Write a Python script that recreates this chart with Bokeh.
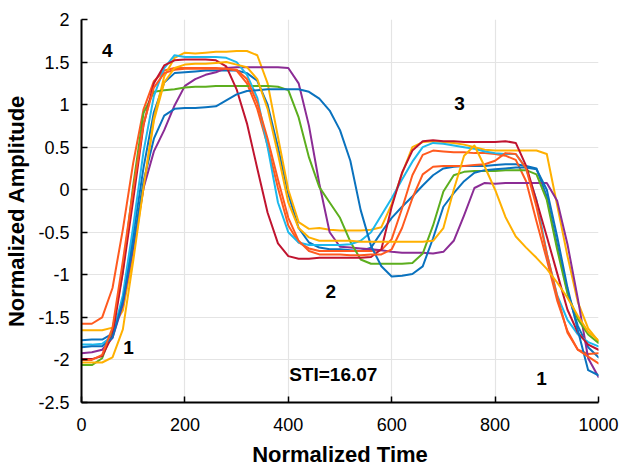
from bokeh.plotting import figure
from bokeh.models import FixedTicker, Range1d, ColumnDataSource
from bokeh.embed import file_html
from bokeh.resources import INLINE
from bokeh.core.properties import value

# ---------------- data ----------------
time = list(range(0, 1001, 20))

blue_1 = [-1.77, -1.76, -1.76, -1.69, -1.30, -0.53, 0.26, 0.91, 1.26, 1.37, 1.38, 1.39, 1.40, 1.40, 1.40, 1.40,
          1.37, 1.28, 1.00, 0.50, -0.05, -0.45, -0.62, -0.68, -0.70, -0.70, -0.71, -0.72, -0.68, -0.50, -0.33,
          -0.20, -0.08, 0.05, 0.17, 0.25, 0.27, 0.28, 0.28, 0.28, 0.29, 0.30, 0.30, 0.28, 0.25, -0.08, -0.65,
          -1.20, -1.60, -1.85, -1.97]
orange_1 = [-1.575, -1.575, -1.50, -1.155, -0.465, 0.315, 0.945, 1.275, 1.40, 1.43, 1.43, 1.43, 1.43, 1.43, 1.42,
            1.40, 1.25, 0.95, 0.52, 0.02, -0.42, -0.62, -0.69, -0.72, -0.72, -0.72, -0.72, -0.72, -0.72, -0.71,
            -0.58, -0.22, 0.17, 0.41, 0.46, 0.45, 0.44, 0.44, 0.43, 0.43, 0.42, 0.40, 0.35, 0.10, -0.37, -0.82,
            -1.30, -1.66, -1.88, -1.93, -1.92]
yellow_1 = [-1.65, -1.65, -1.65, -1.62, -1.42, -0.76, 0.02, 0.84, 1.33, 1.55, 1.61, 1.60, 1.61, 1.62, 1.62, 1.63,
            1.63, 1.58, 1.25, 0.62, 0.00, -0.38, -0.46, -0.45, -0.47, -0.48, -0.48, -0.48, -0.47, -0.44, -0.17,
            0.19, 0.50, 0.56, 0.57, 0.56, 0.55, 0.53, 0.50, 0.47, 0.46, 0.46, 0.46, 0.46, 0.46, 0.42, -0.18,
            -0.78, -1.32, -1.63, -1.78]
purple_1 = [-1.92, -1.91, -1.88, -1.74, -1.35, -0.68, 0.02, 0.45, 0.70, 0.99, 1.22, 1.30, 1.35, 1.38, 1.43, 1.44,
            1.44, 1.44, 1.44, 1.44, 1.43, 1.25, 0.75, 0.07, -0.50, -0.67, -0.68, -0.69, -0.70, -0.71, -0.73,
            -0.74, -0.74, -0.74, -0.75, -0.73, -0.60, -0.30, 0.02, 0.08, 0.07, 0.08, 0.08, 0.08, 0.08, 0.08,
            -0.13, -0.64, -1.28, -1.98, -2.20]
green_1 = [-2.06, -2.06, -1.98, -1.65, -0.95, 0.05, 0.90, 1.15, 1.17, 1.18, 1.20, 1.21, 1.21, 1.22, 1.22, 1.22,
           1.22, 1.22, 1.22, 1.21, 1.17, 0.85, 0.38, 0.03, -0.15, -0.33, -0.61, -0.82, -0.87, -0.87, -0.87,
           -0.87, -0.86, -0.75, -0.42, -0.02, 0.17, 0.21, 0.22, 0.22, 0.22, 0.23, 0.23, 0.23, 0.18, -0.12,
           -0.70, -1.22, -1.52, -1.70, -1.80]
cyan_1 = [-1.82, -1.82, -1.81, -1.72, -1.24, -0.43, 0.45, 1.10, 1.43, 1.58, 1.56, 1.56, 1.56, 1.56, 1.55, 1.50,
          1.35, 1.08, 0.50, -0.15, -0.50, -0.62, -0.65, -0.65, -0.65, -0.65, -0.64, -0.60, -0.50, -0.30, -0.10,
          0.12, 0.33, 0.50, 0.55, 0.54, 0.52, 0.50, 0.48, 0.45, 0.43, 0.42, 0.42, 0.25, -0.12, -0.75, -1.24,
          -1.53, -1.70, -1.79, -1.84]
red_1 = [-1.99, -1.99, -1.955, -1.71, -0.97, -0.12, 0.76, 1.25, 1.46, 1.52, 1.53, 1.53, 1.53, 1.52, 1.45, 1.18,
         0.78, 0.25, -0.27, -0.63, -0.78, -0.81, -0.81, -0.80, -0.80, -0.80, -0.80, -0.80, -0.79, -0.70, -0.20,
         0.20, 0.46, 0.57, 0.58, 0.57, 0.57, 0.56, 0.56, 0.56, 0.56, 0.57, 0.55, 0.28, -0.13, -0.55, -0.98,
         -1.41, -1.68, -1.82, -1.88]
blue_2 = [-1.85, -1.84, -1.84, -1.74, -1.31, -0.64, 0.10, 0.60, 0.87, 0.95, 0.96, 0.96, 0.97, 0.98, 1.05, 1.12,
          1.16, 1.17, 1.18, 1.18, 1.18, 1.18, 1.15, 1.07, 0.93, 0.70, 0.34, -0.24, -0.66, -0.90, -1.02, -1.01,
          -0.99, -0.90, -0.57, -0.20, -0.04, 0.10, 0.20, 0.23, 0.24, 0.25, 0.26, 0.26, 0.24, 0.00, -0.55,
          -1.15, -1.65, -2.12, -2.18]
orange_2 = [-2.00, -2.00, -1.94, -1.62, -0.84, 0.00, 0.77, 1.20, 1.37, 1.41, 1.42, 1.42, 1.42, 1.42, 1.42, 1.41,
            1.30, 1.02, 0.60, 0.12, -0.33, -0.60, -0.72, -0.76, -0.76, -0.76, -0.77, -0.77, -0.76, -0.76, -0.70,
            -0.45, -0.10, 0.18, 0.27, 0.28, 0.28, 0.28, 0.29, 0.30, 0.34, 0.43, 0.42, 0.25, -0.20, -0.75, -1.25,
            -1.68, -1.88, -1.96, -2.04]
yellow_2 = [-2.03, -2.03, -2.03, -1.97, -1.64, -0.84, 0.03, 0.81, 1.26, 1.43, 1.47, 1.48, 1.48, 1.49, 1.50, 1.47,
            1.44, 1.30, 0.95, 0.42, -0.15, -0.45, -0.56, -0.60, -0.60, -0.60, -0.60, -0.61, -0.61, -0.61, -0.61,
            -0.61, -0.61, -0.61, -0.60, -0.45, 0.00, 0.40, 0.52, 0.27, 0.00, -0.32, -0.55, -0.68, -0.80, -0.93,
            -1.09, -1.27, -1.48, -1.67, -1.77]

series = [blue_1, orange_1, yellow_1, purple_1, green_1, cyan_1, red_1, blue_2, orange_2, yellow_2]
colors = ["#0A72BE", "#FF5A1F", "#FFB000", "#8B2C95", "#5CAE1E", "#1DB8EC", "#C0142F",
          "#0A72BE", "#FF5A1F", "#FFB000"]

x_ticks = [0, 200, 400, 600, 800, 1000]
y_ticks = [-2.5, -2, -1.5, -1, -0.5, 0, 0.5, 1, 1.5, 2]
y_tick_labels = ["-2.5", "-2", "-1.5", "-1", "-0.5", "0", "0.5", "1", "1.5", "2"]

ann_x = [50, 731, 482, 91, 890, 487]
ann_y = [1.64, 1.01, -1.2, -1.85, -2.22, -2.17]
ann_text = ["4", "3", "2", "1", "1", "STI=16.07"]

FONT = "Liberation Sans"

# ---------------- figure ----------------
p = figure(width=621, height=469, x_range=Range1d(0, 1000), y_range=Range1d(-2.5, 2),
           output_backend="svg", toolbar_location=None,
           min_border_left=81, min_border_right=23, min_border_top=19, min_border_bottom=64)
p.outline_line_color = None
p.background_fill_color = "white"
p.border_fill_color = "white"

for ys, c in zip(series, colors):
    p.line(time, ys, line_color=c, line_width=2, line_join="round", line_cap="round")

src = ColumnDataSource(dict(x=ann_x, y=ann_y, t=ann_text))
p.text(x="x", y="y", text="t", source=src, text_font=value(FONT), text_font_style="bold",
       text_font_size="19px", text_align="center", text_baseline="middle", text_color="black")

for ax in (p.xaxis[0], p.yaxis[0]):
    ax.axis_line_color = "black"
    ax.axis_line_width = 2
    ax.major_tick_line_color = "black"
    ax.major_tick_line_width = 1.5
    ax.major_tick_in = 6
    ax.major_tick_out = 0
    ax.minor_tick_line_color = None
    ax.major_label_text_font = FONT
    ax.major_label_text_font_size = "18px"
    ax.major_label_text_color = "black"
    ax.axis_label_text_font = FONT
    ax.axis_label_text_font_size = "22px"
    ax.axis_label_text_font_style = "bold"
    ax.axis_label_text_color = "black"

p.xaxis.ticker = FixedTicker(ticks=x_ticks)
p.yaxis.ticker = FixedTicker(ticks=y_ticks)
p.yaxis.major_label_overrides = {t: s for t, s in zip(y_ticks, y_tick_labels)}
p.xaxis.axis_label = "Normalized Time"
p.yaxis.axis_label = "Normalized Amplitude"
p.xaxis.major_label_standoff = 15
p.yaxis.major_label_standoff = 12
p.xaxis.axis_label_standoff = 8
p.yaxis.axis_label_standoff = 6

p.xgrid.grid_line_color = "#e4e4e4"
p.ygrid.grid_line_color = "#e4e4e4"
p.xgrid.grid_line_width = 1.2
p.ygrid.grid_line_width = 1.2

open("out.html", "w").write(file_html(p, INLINE))
